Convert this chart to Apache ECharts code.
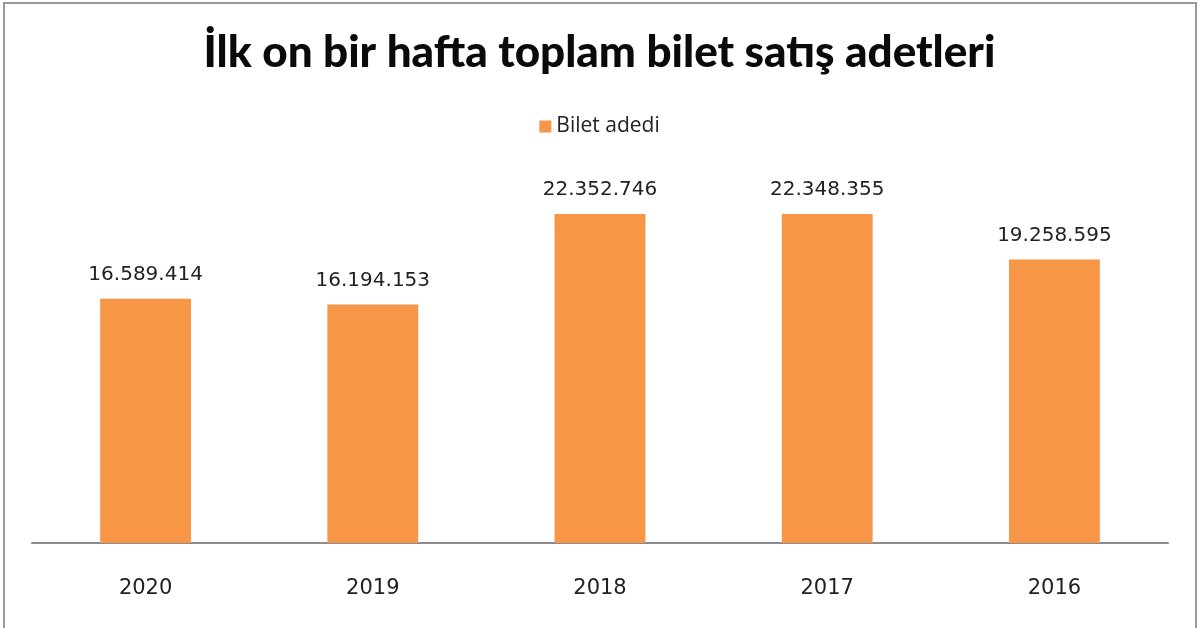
<!DOCTYPE html>
<html><head><meta charset="utf-8">
<script src="https://cdn.jsdelivr.net/npm/echarts@6/dist/echarts.min.js"></script>
<style>
html,body{margin:0;padding:0;background:#fff;}
#c{width:1199px;height:628px;}
</style></head><body>
<div id="c"></div>
<script>
const categories = ['2020','2019','2018','2017','2016'];
const biletAdedi = [16589414, 16194153, 22352746, 22348355, 19258595];
const seriesName = 'Bilet adedi';
const titleText = 'İlk on bir hafta toplam bilet satış adetleri';

function fmt(v){ return String(v).replace(/\B(?=(\d{3})+(?!\d))/g,'.'); }

const chart = echarts.init(document.getElementById('c'), null, {renderer:'canvas'});
chart.setOption({
  animation:false,
  backgroundColor:'#fff',
  graphic:[{type:'rect',shape:{x:4,y:3,width:1192,height:640},style:{fill:'none',stroke:'#9a9a9a',lineWidth:2},silent:true}],
  title:{text:titleText,left:'center',top:26,textStyle:{fontFamily:'Lato',fontWeight:900,fontSize:44,color:'#0a0a0a'}},
  legend:{top:111,left:'center',itemWidth:12,itemHeight:12,itemGap:10,icon:'rect',
    textStyle:{fontFamily:'Open Sans',fontSize:21,color:'#222'}},
  grid:{left:32,right:31,top:175,bottom:85,containLabel:false},
  xAxis:{type:'category',data:categories,
    axisLine:{lineStyle:{color:'#8a8a8a',width:2}},axisTick:{show:false},
    axisLabel:{fontFamily:'DejaVu Sans',fontSize:21,color:'#222',margin:35}},
  yAxis:{type:'value',min:0,max:25000000,show:false,splitLine:{show:false}},
  series:[{name:seriesName,type:'bar',data:biletAdedi,barWidth:'40%',
    itemStyle:{color:'#F79646'},
    label:{show:true,position:'top',distance:14,formatter:p=>fmt(p.value),
      fontFamily:'DejaVu Sans',fontSize:20,color:'#222'}}]
});
</script></body></html>
